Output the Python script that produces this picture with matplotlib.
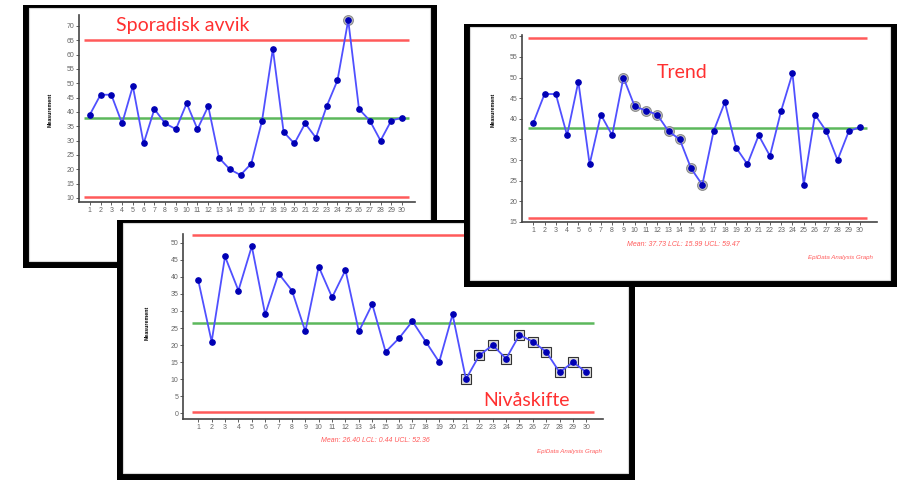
import matplotlib
matplotlib.use("Agg")
import matplotlib.pyplot as plt
from matplotlib.patches import Rectangle

W, H = 904, 480

# ---------------------------------------------------------------------------
# Data
# ---------------------------------------------------------------------------
samples = list(range(1, 31))

sporadisk_values = [39, 46, 46, 36, 49, 29, 41, 36, 34, 43,
                    34, 42, 24, 20, 18, 22, 37, 62, 33, 29,
                    36, 31, 42, 51, 72, 41, 37, 30, 37, 38]
sporadisk_limits = (37.83, 10.4, 65.2)        # mean, LCL, UCL
sporadisk_flagged = [25]

trend_values = [39, 46, 46, 36, 49, 29, 41, 36, 50, 43,
                42, 41, 37, 35, 28, 24, 37, 44, 33, 29,
                36, 31, 42, 51, 24, 41, 37, 30, 37, 38]
trend_limits = (37.73, 15.99, 59.47)
trend_flagged = [9, 10, 11, 12, 13, 14, 15, 16]

niva_values = [39, 21, 46, 36, 49, 29, 41, 36, 24, 43,
               34, 42, 24, 32, 18, 22, 27, 21, 15, 29,
               10, 17, 20, 16, 23, 21, 18, 12, 15, 12]
niva_limits = (26.40, 0.44, 52.36)
niva_flagged = [21, 22, 23, 24, 25, 26, 27, 28, 29, 30]

BLUE_LINE = "#5050ff"
BLUE_DOT = "#0000b4"
RED = "#ff5a5a"
GREEN = "#5cb85c"
AXIS = "#444444"
TICKTXT = "#666666"

plt.rcParams["font.family"] = ["Liberation Sans", "DejaVu Sans"]

fig = plt.figure(figsize=(W / 100, H / 100), dpi=100)


def box(x0, y0, x1, y1):
    return [x0 / W, 1 - y1 / H, (x1 - x0) / W, (y1 - y0) / H]


def panel(frame, plot_box, xlim, ylim, yticks, values, limits, flagged,
          flag_marker, z):
    x0, y0, x1, y1 = frame
    fa = fig.add_axes(box(x0, y0, x1, y1), zorder=z)
    fa.set_xlim(x0, x1)
    fa.set_ylim(y1, y0)
    fa.axis("off")
    fa.add_patch(Rectangle((x0, y0), x1 - x0, y1 - y0, color="black", lw=0))
    fa.add_patch(Rectangle((x0 + 6, y0 + 3), x1 - x0 - 13, y1 - y0 - 10,
                           facecolor="white", edgecolor="#d8d8d8", lw=0.8))

    ax = fig.add_axes(box(*plot_box), zorder=z + 1)
    ax.patch.set_alpha(0)
    ax.set_xlim(*xlim)
    ax.set_ylim(*ylim)

    mean, lcl, ucl = limits
    ax.hlines([ucl, lcl], 0.5, 30.6, color=RED, lw=1.8, zorder=2)
    ax.hlines(mean, 0.5, 30.6, color=GREEN, lw=1.8, zorder=2)

    fx = [samples[i - 1] for i in flagged]
    fy = [values[i - 1] for i in flagged]
    if flag_marker == "s":
        ax.plot(fx, fy, ls="none", marker="s", ms=7.5, mfc="#dcdcdc",
                mec="#333333", mew=0.8, zorder=3)
    else:
        ax.plot(fx, fy, ls="none", marker="o", ms=7, mfc="#c4c4c4",
                mec="#8a8a8a", mew=0.8, zorder=3)

    ax.plot(samples, values, color=BLUE_LINE, lw=1.3, zorder=4)
    ax.plot(samples, values, ls="none", marker="o", ms=3.8, color=BLUE_DOT,
            zorder=5)

    ax.set_xticks(samples)
    ax.set_yticks(yticks)
    for s in ("top", "right"):
        ax.spines[s].set_visible(False)
    for s in ("left", "bottom"):
        ax.spines[s].set_color(AXIS)
        ax.spines[s].set_linewidth(1.2)
    ax.tick_params(length=2, width=0.6, color=AXIS, pad=1.5,
                   labelsize=5, labelcolor=TICKTXT)
    return fa, ax


# Panel 1 -- sporadic deviation
fa1, ax1 = panel((23, 5, 437, 268), (79, 15, 415, 202), (0, 31.2),
                 (8.6, 73.8), list(range(10, 75, 5)), sporadisk_values,
                 sporadisk_limits, sporadisk_flagged, "o", 1)
fa1.text(116, 25, "Sporadisk avvik", color="#ff3030", fontsize=14,
         family=["Lato", "DejaVu Sans"], va="center", ha="left")
fa1.text(50, 110, "Measurement", rotation=90, fontsize=3.8, fontweight="bold",
         ha="center", va="center")

# Panel 3 -- level shift (drawn before panel 2, which overlaps it)
fa3, ax3 = panel((117, 220, 635, 480), (183, 234, 603, 419), (-0.14, 31.24),
                 (-1.7, 52.6), list(range(0, 55, 5)), niva_values,
                 niva_limits, niva_flagged, "s", 3)
fa3.text(483, 400, "Nivåskifte", color="#ff3030", fontsize=14,
         family=["Lato", "DejaVu Sans"], va="center", ha="left")
fa3.text(147, 323, "Measurement", rotation=90, fontsize=3.8, fontweight="bold",
         ha="center", va="center")
fa3.text(375, 440, "Mean: %.2f LCL: %.2f UCL: %.2f" % niva_limits,
         color=RED, fontsize=5, style="italic", ha="center", va="center")
fa3.text(602, 452, "EpiData Analysis Graph", color=RED, fontsize=4.4,
         style="italic", ha="right", va="center")

# Panel 2 -- trend
fa2, ax2 = panel((464, 24, 897, 287), (522, 35, 877, 222), (0, 31.5),
                 (15, 60.3), list(range(15, 65, 5)), trend_values,
                 trend_limits, trend_flagged, "o", 5)
fa2.text(657, 73, "Trend", color="#ff3030", fontsize=14,
         family=["Lato", "DejaVu Sans"], va="center", ha="left")
fa2.text(493, 110, "Measurement", rotation=90, fontsize=3.8, fontweight="bold",
         ha="center", va="center")
fa2.text(683, 245, "Mean: %.2f LCL: %.2f UCL: %.2f" % trend_limits,
         color=RED, fontsize=5, style="italic", ha="center", va="center")
fa2.text(873, 258, "EpiData Analysis Graph", color=RED, fontsize=4.4,
         style="italic", ha="right", va="center")

fig.savefig("out.png", dpi=100, facecolor="white")
plt.close(fig)
